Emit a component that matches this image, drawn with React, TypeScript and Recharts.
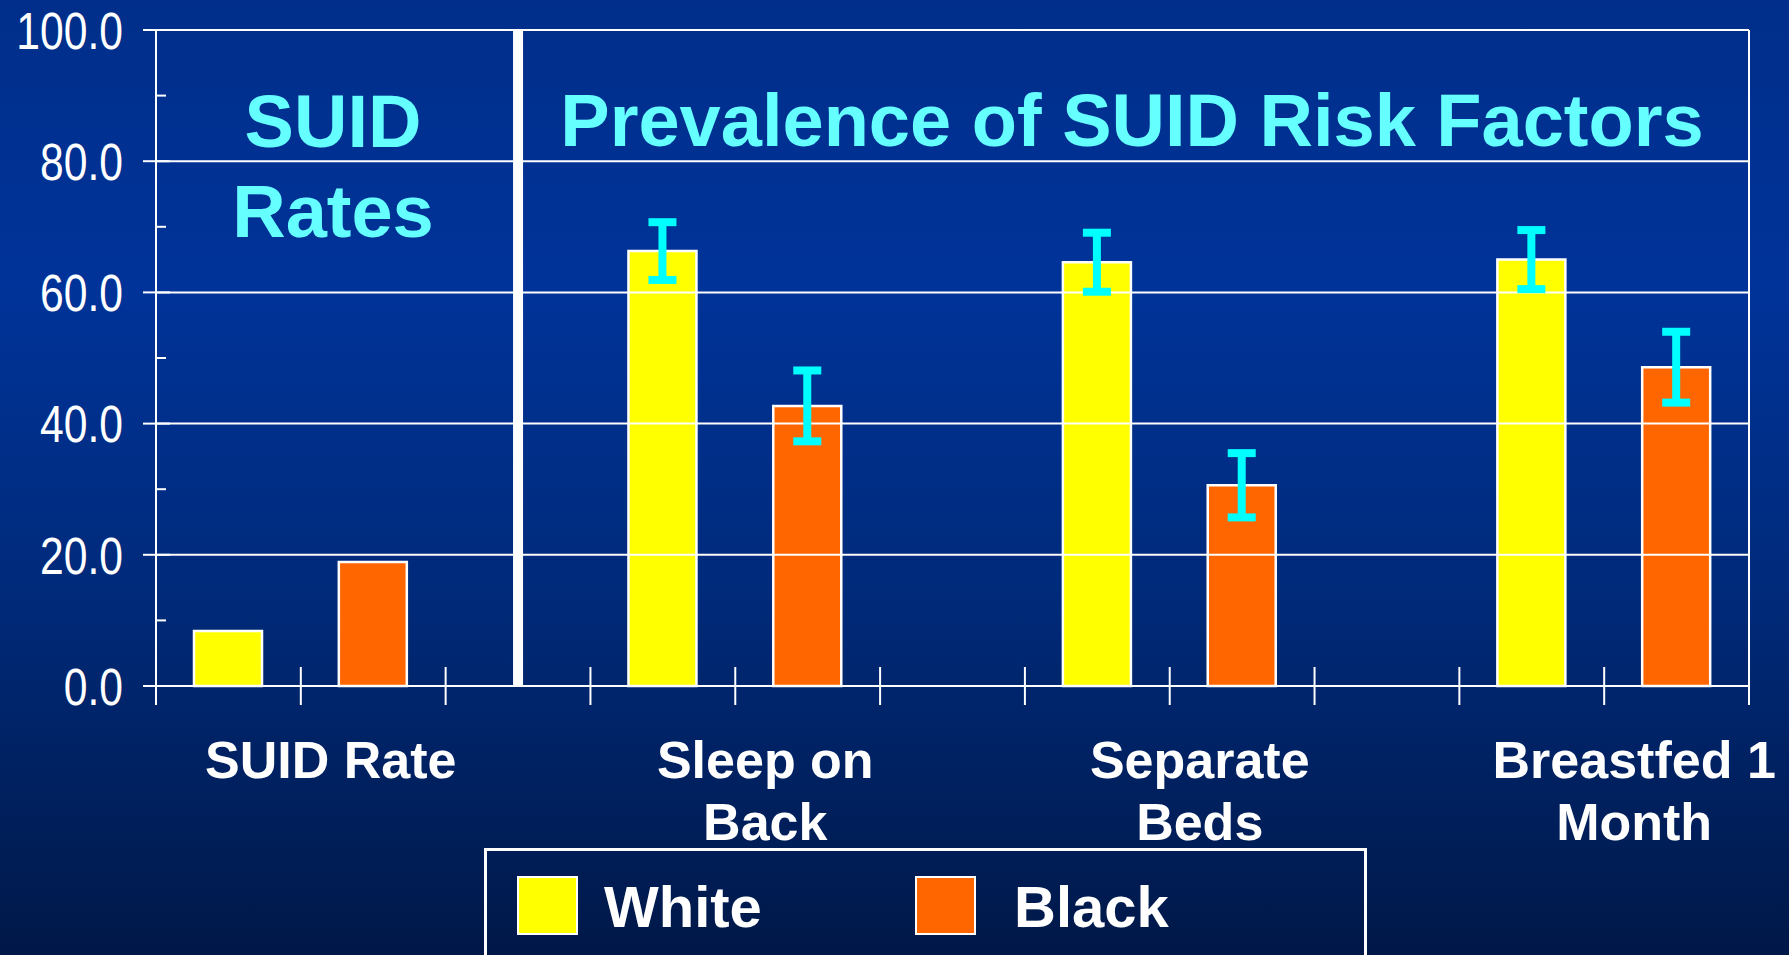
import React from "react";
import { BarChart, Bar, XAxis, YAxis, ErrorBar, ReferenceLine } from "recharts";

const categories = [["SUID Rate"], ["Sleep on", "Back"], ["Separate", "Beds"], ["Breastfed 1", "Month"]];
const whiteValues = [8.4, 66.3, 64.6, 65.0];
const blackValues = [18.9, 42.7, 30.6, 48.6];
const whiteErrors = [null, 4.4, 4.5, 4.5];
const blackErrors = [null, 5.4, 4.9, 5.4];
const yTicks = [0, 10, 20, 30, 40, 50, 60, 70, 80, 90, 100];
const gridValues = [20, 40, 60, 80, 100];
const slotTicks = [0, 1, 2, 3, 4, 5, 6, 7, 8, 9, 10, 11];

const series = [
  { name: "White", color: "#FFFF00" },
  { name: "Black", color: "#FF6600" },
];

// every bar gets its own slot, with an empty slot between groups
const data: any[] = [];
categories.forEach((c, i) => {
  data.push({ slot: "w" + i, White: whiteValues[i], whiteErr: whiteErrors[i] });
  data.push({ slot: "b" + i, Black: blackValues[i], blackErr: blackErrors[i] });
  if (i < categories.length - 1) data.push({ slot: "g" + i });
});
data.forEach((d, i) => { d.pos = i + 0.5; });

const font = "'Liberation Sans', Arial, sans-serif";

const YTick = (props: any) => {
  const { x, y, payload } = props;
  const major = payload.value % 20 === 0;
  return (
    <g>
      <line x1={major ? x - 13 : x} x2={x + (major ? 14 : 10)} y1={y} y2={y} stroke="#fff" strokeWidth={2} />
      {major && (
        <text transform={`translate(${x - 33},${y}) scale(0.82,1)`} dy="0.36em" textAnchor="end" fill="#fff"
          fontSize={52} fontFamily={font}>
          {payload.value.toFixed(1)}
        </text>
      )}
    </g>
  );
};

const XTick = (props: any) => {
  const { x, y, payload } = props;
  const v = payload.value;
  const lines = v % 3 === 1 ? categories[(v - 1) / 3] : null;
  return (
    <g>
      <line x1={x} x2={x} y1={y - 19} y2={y + 19} stroke="#fff" strokeWidth={2} />
      {lines && (
        <text x={x + 30} y={y + 92} textAnchor="middle" fill="#fff" fontSize={52} fontWeight="bold" fontFamily={font}>
          {lines.map((l, k) => (
            <tspan key={k} x={x + 30} dy={k === 0 ? 0 : 62}>{l}</tspan>
          ))}
        </text>
      )}
    </g>
  );
};

const App: React.FC = () => {
  return (
    <div style={{
      position: "absolute", left: 0, top: 0, width: 1789, height: 955, overflow: "hidden",
      background: "linear-gradient(to bottom, #002e8a 0%, #003399 30%, #002a7a 62%, #001848 100%)",
    }}>
      <div style={{ position: "absolute", left: 0, top: 0 }}>
        <BarChart width={1789} height={955} data={data} barCategoryGap={0}
          margin={{ top: 30, right: 40, left: 16, bottom: 169 }}>
          <XAxis xAxisId="cat" dataKey="slot" hide height={0} />
          <XAxis xAxisId="num" dataKey="pos" type="number" domain={[0, 11]} ticks={slotTicks} interval={0}
            allowDataOverflow height={100} tickSize={0} tickMargin={0} tickLine={false}
            axisLine={{ stroke: "#fff", strokeWidth: 2 }} tick={XTick} />
          <YAxis domain={[0, 100]} ticks={yTicks} interval={0} width={140} tickSize={0} tickMargin={0}
            tickLine={false} axisLine={{ stroke: "#fff", strokeWidth: 2 }} tick={YTick} />
          {gridValues.map((g) => (
            <ReferenceLine key={g} y={g} xAxisId="num" stroke="#fff" strokeWidth={2} />
          ))}
          <ReferenceLine x={11} xAxisId="num" stroke="#fff" strokeWidth={2} />
          <ReferenceLine x={2.5} xAxisId="num" stroke="#fff" strokeWidth={10} />
          <Bar xAxisId="cat" dataKey="White" stackId="s" fill="#FFFF00" stroke="#fff" strokeWidth={2.5}
            barSize={68} isAnimationActive={false}>
            <ErrorBar dataKey="whiteErr" width={14} strokeWidth={8} stroke="#00FFFF" direction="y"
              isAnimationActive={false} />
          </Bar>
          <Bar xAxisId="cat" dataKey="Black" stackId="s" fill="#FF6600" stroke="#fff" strokeWidth={2.5}
            barSize={68} isAnimationActive={false}>
            <ErrorBar dataKey="blackErr" width={14} strokeWidth={8} stroke="#00FFFF" direction="y"
              isAnimationActive={false} />
          </Bar>
        </BarChart>
      </div>
      <svg width={1789} height={955} style={{ position: "absolute", left: 0, top: 0, pointerEvents: "none" }}>
        <g fill="#66FFFF" fontSize={74} fontWeight="bold" fontFamily={font} textAnchor="middle">
          <text x={333} y={147}>SUID</text>
          <text x={333} y={237}>Rates</text>
          <text x={1132} y={146}>Prevalence of SUID Risk Factors</text>
        </g>
        <rect x={485.5} y={849.5} width={880} height={130} fill="none" stroke="#fff" strokeWidth={3} />
        {series.map((s, i) => (
          <g key={s.name}>
            <rect x={518 + i * 398} y={877} width={59} height={57} fill={s.color} stroke="#fff" strokeWidth={2} />
            <text x={604 + i * 410} y={927} fill="#fff" fontSize={58} fontWeight="bold" fontFamily={font}>{s.name}</text>
          </g>
        ))}
      </svg>
    </div>
  );
};

export default App;
